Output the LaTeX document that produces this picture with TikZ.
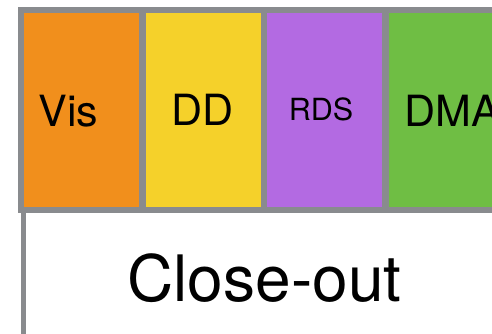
\documentclass[tikz,border=0pt]{standalone}
\usepackage{fontspec}
\setmainfont{TeX Gyre Heros}
\definecolor{bordergray}{HTML}{898B8E}
\definecolor{visorange}{HTML}{F18F1C}
\definecolor{ddyellow}{HTML}{F5D12A}
\definecolor{rdspurple}{HTML}{B36AE2}
\definecolor{dmagreen}{HTML}{6FBE44}
\tikzset{
  cellbox/.style={inner sep=0pt, outer sep=0pt, anchor=north west, draw=none},
  celltext/.style={inner sep=0pt, anchor=base, text=black, font=\fontsize{43}{43}\selectfont},
}
\begin{document}
\begin{tikzpicture}[x=1pt,y=-1pt]
\useasboundingbox (0,0) rectangle (492,334);
\clip (0,0) rectangle (492,334);
\fill[white] (0,0) rectangle (492,334);
% gray frame
\fill[bordergray] (18,7) rectangle (510,213);
\fill[bordergray] (21,213) rectangle (26,334);
% cells
\node[cellbox, fill=visorange, minimum width=115pt, minimum height=194pt] (viscell) at (24,13) {};
\node[cellbox, fill=ddyellow, minimum width=115pt, minimum height=194pt] (ddcell) at (146,13) {};
\node[cellbox, fill=rdspurple, minimum width=115pt, minimum height=194pt] (rdscell) at (267,13) {};
\node[cellbox, fill=dmagreen, minimum width=115pt, minimum height=194pt] (dmacell) at (389,13) {};
% texts
\node[celltext] (vis) at (68.5,126) {Vis};
\node[celltext] (dd) at (202.5,125.5) {DD};
\node[celltext, anchor=base west, font=\fontsize{43}{43}\selectfont] (dma) at (404,126) {DMA};
\node[celltext, font=\fontsize{30.5}{30.5}\selectfont] (rds) at (321,121) {RDS};
\node[celltext, font=\fontsize{64}{64}\selectfont] (close) at (264.5,301) {Close-out};
\end{tikzpicture}
\end{document}
